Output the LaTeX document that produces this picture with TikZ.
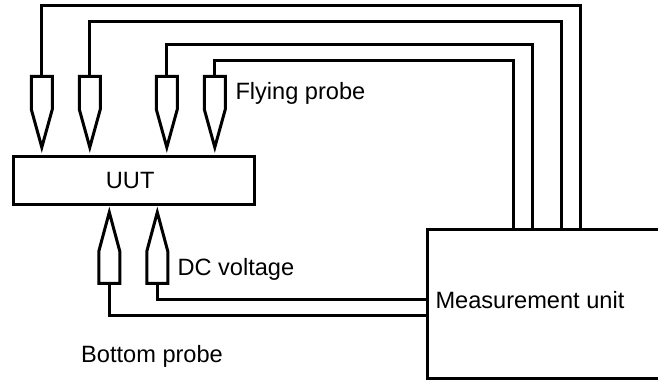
\documentclass[tikz,border=0pt]{standalone}
\usepackage{fontspec}
\setmainfont{Liberation Sans}
\tikzset{
  boxline/.style={draw=black,line width=3pt,fill=white,inner sep=0pt},
  wire/.style={draw=black,line width=3pt,line join=miter},
  probeline/.style={draw=black,line width=3pt,line join=miter,fill=white},
  txt/.style={inner sep=0pt,anchor=base west,font=\fontsize{23.6}{28}\selectfont,text=black}
}
\newcommand{\probedown}[2]{%
  \draw[probeline] (#1-10.5,77) -- (#1+10.5,77) -- (#1+10.5,110) -- (#1,148) -- (#1-10.5,110) -- cycle;
  \coordinate (#2) at (#1,77);}
\newcommand{\probeup}[2]{%
  \draw[probeline] (#1-10.5,284) -- (#1+10.5,284) -- (#1+10.5,252) -- (#1,213) -- (#1-10.5,252) -- cycle;
  \coordinate (#2) at (#1,284);}
\begin{document}
\begin{tikzpicture}[x=1pt,y=-1pt]
\useasboundingbox (0.7,0.7) rectangle (658.7,380.7);
\clip (0.7,0.7) rectangle (658.7,380.7);
\node[boxline,minimum width=241pt,minimum height=48pt,anchor=north west,
      font=\fontsize{23.6}{28}\selectfont] (uut) at (12.7,156) {\hspace*{-7.6pt}UUT};
\node[boxline,minimum width=260pt,minimum height=148.5pt,anchor=north west] (meas) at (426.7,228.7) {};
\node[txt] (meastxt) at (436,309.5) {Measurement unit};
\node[txt] (fly) at (236,100.5) {Flying probe};
\node[txt] (dc) at (178,276) {DC voltage};
\node[txt] (bot) at (81.7,363) {Bottom probe};
\probedown{42.5}{pa}
\probedown{90.5}{pb}
\probedown{167.5}{pc}
\probedown{215.5}{pd}
\probeup{110}{pe}
\probeup{158}{pf}
\coordinate (ca) at (pa |- 0,6);
\coordinate (cb) at (pb |- 0,22);
\coordinate (cc) at (pc |- 0,45.5);
\coordinate (cd) at (pd |- 0,61.5);
\coordinate (ma) at (581,229);
\coordinate (mb) at (562,229);
\coordinate (mc) at (533,229);
\coordinate (md) at (514,229);
\coordinate (me) at (427,316);
\coordinate (mf) at (427,300);
\draw[wire] (pa) -- (ca) -| (ma);
\draw[wire] (pb) -- (cb) -| (mb);
\draw[wire] (pc) -- (cc) -| (mc);
\draw[wire] (pd) -- (cd) -| (md);
\draw[wire] (pe) |- (me);
\draw[wire] (pf) |- (mf);
\end{tikzpicture}
\end{document}
